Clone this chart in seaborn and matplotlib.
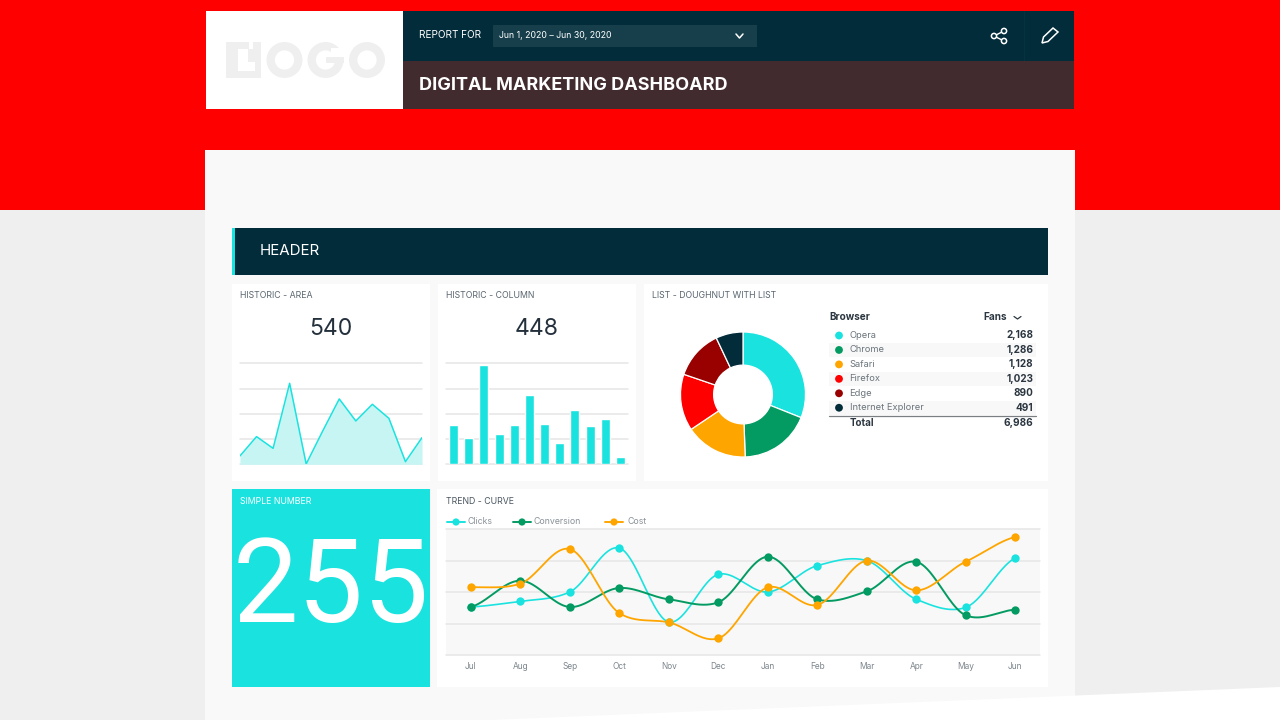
import numpy as np
import pandas as pd
import matplotlib
matplotlib.use("Agg")
import matplotlib.pyplot as plt
from matplotlib.patches import Rectangle, Polygon, Circle
import seaborn as sns

# ---------- data ----------
area_values = [8.3, 27.4, 15.8, 80.2, 0.3, 33.0, 64.7, 42.9, 59.4, 45.5, 2.6, 26.4]
column_values = [39.3, 26.1, 98.7, 29.7, 39.3, 68.3, 39.9, 20.8, 53.8, 37.6, 44.6, 6.9]
months = ["Jul", "Aug", "Sep", "Oct", "Nov", "Dec", "Jan", "Feb", "Mar", "Apr", "May", "Jun"]
clicks = [38.1, 42.6, 50.0, 84.9, 26.2, 64.0, 50.0, 70.9, 74.9, 44.2, 37.8, 77.0]
conversion = [38.1, 59.0, 38.1, 53.2, 44.2, 41.8, 78.0, 44.2, 50.5, 74.0, 31.5, 36.0]
cost = [53.7, 56.6, 84.1, 33.3, 25.9, 13.2, 53.7, 39.7, 74.9, 51.3, 74.1, 93.7]
browsers = ["Opera", "Chrome", "Safari", "Firefox", "Edge", "Internet Explorer"]
fans = [2168, 1286, 1128, 1023, 890, 491]
fans_total = 6986

CYAN, GREEN, ORANGE, RED, MAROON, NAVY = "#1AE3DF", "#049B63", "#FFA500", "#FF0000", "#990000", "#022C3A"
GRID, TXT, DARK = "#E6E6E6", "#5F6B73", "#24303C"

sns.set_theme(style="white")
plt.rcParams["font.family"] = ["Inter", "DejaVu Sans"]

fig = plt.figure(figsize=(12.8, 7.2), dpi=100, facecolor="#EFEFEF")
bg = fig.add_axes([0, 0, 1, 1])
bg.set_xlim(0, 1280)
bg.set_ylim(720, 0)
bg.axis("off")


def rect(x0, y0, x1, y1, c, **kw):
    bg.add_patch(Rectangle((x0, y0), x1 - x0, y1 - y0, fc=c, ec="none", **kw))


def label(x, y, s, size, c=TXT, ha="left", weight="normal", **kw):
    bg.text(x, y, s, fontsize=size, color=c, ha=ha, va="center", fontweight=weight, **kw)


def pixel_axes(x0, y0, x1, y1):
    ax = fig.add_axes([x0 / 1280, 1 - y1 / 720, (x1 - x0) / 1280, (y1 - y0) / 720])
    ax.patch.set_alpha(0)
    return ax


def style_grid(ax, show_x=False):
    sns.despine(ax=ax, left=True, bottom=True, top=True, right=True)
    ax.set_ylim(0, 100)
    ax.set_yticks([0, 25, 50, 75, 100])
    ax.set_yticklabels([])
    ax.tick_params(left=False, bottom=False)
    ax.grid(axis="y", color=GRID, lw=1.1)
    ax.grid(axis="x", visible=False)
    for gl in ax.get_ygridlines():
        gl.set_clip_on(False)
    ax.set_axisbelow(True)
    ax.set_xlabel("")
    ax.set_ylabel("")
    if not show_x:
        ax.set_xticks([])


# ---------- page background ----------
rect(0, 0, 1280, 210, RED)
rect(205, 150, 1075, 720, "#F9F9F9")
bg.add_patch(Polygon([(490, 720), (1280, 687), (1280, 720)], fc="#FFFFFF", ec="none"))

# ---------- top banner ----------
rect(206, 11, 403, 109, "#FFFFFF")
rect(403, 11, 1074, 61, NAVY)
rect(403, 61, 1074, 109, "#422B2E")
rect(493, 25, 757, 47, "#163F4B")
rect(1024, 11, 1025, 61, "#06313E")
# logo
rect(226, 42, 261, 78, "#EFEFEF")
rect(238, 49, 248, 71, "#FFFFFF")
rect(248, 62, 255, 71, "#FFFFFF")
rect(249, 42, 253, 49, "#FFFFFF")
for cx in [284.5, 325.5, 367]:
    bg.add_patch(Circle((cx, 60), 13.8, fc="none", ec="#EFEFEF", lw=6))
rect(331, 48, 346, 57, "#FFFFFF")
rect(326, 57, 344, 63, "#EFEFEF")
label(419, 35.5, "REPORT FOR", 7.2, "#FFFFFF")
label(499, 35.5, "Jun 1, 2020 – Jun 30, 2020", 6.3, "#FFFFFF")
bg.plot([736, 739.5, 743], [34, 38, 34], color="#FFFFFF", lw=1.1)
label(419, 85, "DIGITAL MARKETING DASHBOARD", 13, "#FFFFFF", weight="bold")
# share icon
bg.plot([1004, 994, 1004], [31, 36, 41], color="#FFFFFF", lw=1.0, zorder=3)
for px, py in [(1004, 31), (994, 36), (1004, 41)]:
    bg.add_patch(Circle((px, py), 2.6, fc=NAVY, ec="#FFFFFF", lw=1.1, zorder=4))
# pencil icon
bg.add_patch(Polygon([(1042, 43), (1043.5, 37), (1053, 28), (1058, 32), (1048, 41.5)],
                     fc="none", ec="#FFFFFF", lw=1.1))

# ---------- section header ----------
rect(232, 228, 1048, 275, NAVY)
rect(232, 228, 235, 275, CYAN)
label(260, 251, "HEADER", 10.8, "#FFFFFF")

# ---------- cards ----------
rect(232, 284, 430, 481, "#FFFFFF")
rect(438, 284, 636, 481, "#FFFFFF")
rect(644, 284, 1048, 481, "#FFFFFF")
rect(232, 489, 430, 687, CYAN)
rect(437, 489, 1048, 687, "#FFFFFF")

label(240, 296, "HISTORIC - AREA", 6.3, "#5A6670")
label(446, 296, "HISTORIC - COLUMN", 6.3, "#5A6670")
label(652, 296, "LIST - DOUGHNUT WITH LIST", 6.3, "#5A6670")
label(446, 502, "TREND - CURVE", 6.3, "#4A5660")
label(240, 502, "SIMPLE NUMBER", 6.3, "#FFFFFF")
label(330.5, 329, "540", 16.5, DARK, ha="center")
label(537, 329, "448", 16.5, DARK, ha="center")
bg.text(330.5, 590, "255", fontsize=84, color="#FFFFFF", ha="center", va="center",
        family="Roboto", fontweight="normal", fontstyle="normal")

# ---------- area chart ----------
ax = pixel_axes(240, 363.3, 422, 464.3)
idx = np.arange(len(area_values))
ax.fill_between(idx, area_values, 0, color="#C6F5F4", lw=0)
sns.lineplot(x=idx, y=area_values, color=CYAN, lw=1.1, ax=ax)
ax.set_xlim(0, len(area_values) - 1)
style_grid(ax)

# ---------- column chart ----------
ax = pixel_axes(446, 363.3, 628, 464.3)
sns.barplot(x=months, y=column_values, color=CYAN, saturation=1, width=0.6, ax=ax)
ax.set_xlim(-0.5, 11.5)
style_grid(ax)

# ---------- doughnut ----------
ax = pixel_axes(680, 331.5, 806, 457.5)
ax.pie(fans, colors=[CYAN, GREEN, ORANGE, RED, MAROON, NAVY], startangle=90, counterclock=False,
       radius=1.0, wedgeprops=dict(width=0.53, edgecolor="white", linewidth=0.9))
ax.set_xlim(-1.008, 1.008)
ax.set_ylim(-1.008, 1.008)

# ---------- list table ----------
label(829, 317, "Browser", 7.2, "#2B3640", weight="bold")
label(983, 317, "Fans", 7.2, "#2B3640", weight="bold")
bg.plot([1014, 1017.5, 1021], [316.5, 319, 316.5], color="#2B3640", lw=0.9)
row_colors = [CYAN, GREEN, ORANGE, RED, MAROON, NAVY]
row_y = 335.5
for i, (b, f, c) in enumerate(zip(browsers, fans, row_colors)):
    y = row_y + i * 14.45
    if i % 2 == 1:
        rect(829, y - 7, 1036, y + 7, "#F8F8F8")
    bg.add_patch(Circle((839, y), 3.9, fc=c, ec="none", zorder=3))
    label(849.5, y, b, 6.7, "#6B757C", zorder=3)
    label(1033.5, y, f"{f:,}", 7.2, "#2B3640", ha="right", weight="bold", zorder=3)
bg.plot([829, 1036], [416, 416], color="#7A7F84", lw=0.9)
label(849.5, 423, "Total", 7.0, "#2B3640", weight="bold")
label(1033.5, 423, f"{fans_total:,}", 7.2, "#2B3640", ha="right", weight="bold")


# ---------- trend chart ----------
def spline(values, tension=0.85, n=40):
    """Cardinal-spline drawing path through the given points."""
    v = np.asarray(values, float)
    m = np.zeros_like(v)
    m[1:-1] = (v[2:] - v[:-2]) / 2 * tension
    m[0], m[-1] = (v[1] - v[0]) * 0.5, (v[-1] - v[-2]) * 0.5
    xs, ys = [], []
    for i in range(len(v) - 1):
        t = np.linspace(0, 1, n, endpoint=False)
        h = (2*t**3 - 3*t**2 + 1) * v[i] + (t**3 - 2*t**2 + t) * m[i] \
            + (-2*t**3 + 3*t**2) * v[i + 1] + (t**3 - t**2) * m[i + 1]
        xs.append(i + t)
        ys.append(h)
    return np.concatenate(xs + [[len(v) - 1]]), np.concatenate(ys + [[v[-1]]])


ax = pixel_axes(446, 529, 1040, 655)
ax.patch.set_alpha(1)
ax.set_facecolor("#F8F8F8")
series = [("Clicks", clicks, CYAN, 1.2), ("Conversion", conversion, GREEN, 1.4), ("Cost", cost, ORANGE, 1.3)]
for name, vals, col, w in series:
    sx, sy = spline(vals)
    sns.lineplot(x=sx, y=sy, color=col, lw=w, ax=ax, zorder=3)
    sns.scatterplot(x=np.arange(12), y=vals, color=col, s=36, linewidth=0, ax=ax, zorder=4)
ax.set_xlim(-0.5, 11.5)
style_grid(ax, show_x=True)
ax.set_xticks(range(12))
ax.set_xticklabels(months, fontsize=6.0, color="#7C858C")
ax.tick_params(axis="x", pad=5, length=0)
ax.set_ylim(0, 100)

for lx, tx, name, col in [(447, 468, "Clicks", CYAN), (513, 534, "Conversion", GREEN), (605, 627, "Cost", ORANGE)]:
    bg.plot([lx, lx + 18], [522, 522], color=col, lw=1.4)
    bg.add_patch(Circle((lx + 9, 522), 3.6, fc=col, ec="none"))
    label(tx, 522, name, 6.3, "#8A9298")

fig.savefig("out.png", dpi=100, facecolor=fig.get_facecolor())
